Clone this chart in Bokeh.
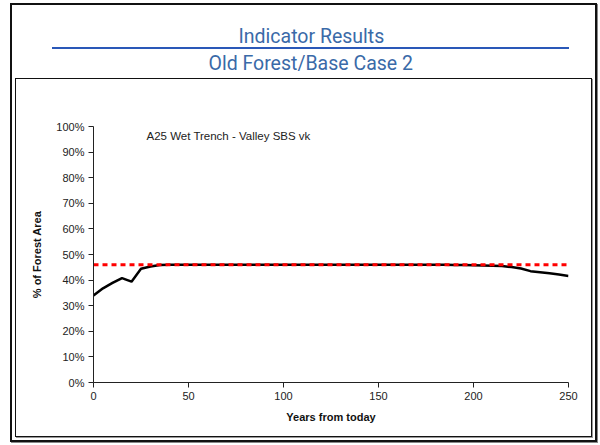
from bokeh.plotting import figure
from bokeh.models import (Label, Title, FixedTicker, PrintfTickFormatter,
                          Range1d, InlineStyleSheet)
from bokeh.embed import file_html
from bokeh.resources import INLINE

# Old forest share of forest area over the planning horizon (percent)
years = [0, 5, 10, 15, 20, 25, 30, 35, 40, 45, 50, 55, 60, 65, 70, 75, 80,
         85, 90, 95, 100, 105, 110, 115, 120, 125, 130, 135, 140, 145, 150,
         155, 160, 165, 170, 175, 180, 185, 190, 195, 200, 205, 210, 215,
         220, 225, 230, 235, 240, 245, 250]
old_forest = [34.0, 36.8, 38.9, 40.8, 39.4, 44.4, 45.3, 45.9, 46.0, 46.0,
              46.0, 46.0, 46.0, 46.0, 46.0, 46.0, 46.0, 46.0, 46.0, 46.0,
              46.0, 46.0, 46.0, 46.0, 46.0, 46.0, 46.0, 46.0, 46.0, 46.0,
              46.0, 46.0, 46.0, 46.0, 46.0, 46.0, 46.0, 46.0, 45.9, 45.9,
              45.8, 45.7, 45.6, 45.5, 45.1, 44.5, 43.5, 43.1, 42.7, 42.2,
              41.6]

# Target level
target_years = [0, 250]
target = [46.0, 46.0]

y_ticks = [0, 10, 20, 30, 40, 50, 60, 70, 80, 90, 100]
x_ticks = [0, 50, 100, 150, 200, 250]

title_text = "Indicator Results"
subtitle_text = "Old Forest/Base Case 2"
unit_text = "A25 Wet Trench - Valley SBS vk"

TICK_FONT = "Liberation Sans"
HEAD_FONT = "Roboto"
HEAD_COLOR = "#3a6aa8"

# Page frame, chart box and the rule under the heading, drawn as overlays
frame_css = """
:host { position: relative; }
:host::before {
  content: ""; position: absolute; z-index: 10; pointer-events: none;
  left: 10px; top: 3px; width: 587px; height: 439px;
  box-sizing: border-box; border: 2px solid #111;
  box-shadow: 1px 1px 0 #888;
  background: linear-gradient(#2a58b8, #2a58b8) no-repeat;
  background-size: 517px 2px; background-position: 40px 42px;
}
:host::after {
  content: ""; position: absolute; z-index: 10; pointer-events: none;
  left: 15px; top: 78px; width: 577px; height: 359px;
  box-sizing: border-box; border: 1px solid #111;
  box-shadow: 1px 1px 0 #999;
}
"""

p = figure(width=600, height=445, output_backend="svg", toolbar_location=None,
           x_range=Range1d(0, 250), y_range=Range1d(0, 100),
           min_border_left=93, min_border_right=32,
           min_border_top=126, min_border_bottom=63,
           stylesheets=[InlineStyleSheet(css=frame_css)])
p.toolbar.logo = None
p.background_fill_color = "white"
p.border_fill_color = "white"
p.outline_line_color = None
p.grid.visible = False
p.title.visible = False

# Heading: panels stack outward from the frame in the order they are added;
# a blank title keeps the heading clear of the chart box.  The heading is
# centred on the rule, so it is placed with a left offset from the frame.
p.add_layout(Title(text=" ", text_font=TICK_FONT, text_font_size="11px",
                   standoff=37), "above")
p.add_layout(Title(text=subtitle_text, align="left", offset=115,
                   text_font=HEAD_FONT, text_font_size="19.5px",
                   text_font_style="normal", text_color=HEAD_COLOR,
                   standoff=2), "above")
p.add_layout(Title(text=title_text, align="left", offset=145,
                   text_font=HEAD_FONT, text_font_size="19.5px",
                   text_font_style="normal", text_color=HEAD_COLOR,
                   standoff=2), "above")

# Axes
for ax in (p.xaxis[0], p.yaxis[0]):
    ax.axis_line_color = "#222222"
    ax.axis_line_width = 1
    ax.major_tick_line_color = "#222222"
    ax.major_tick_out = 5
    ax.major_tick_in = 0
    ax.minor_tick_line_color = None
    ax.major_label_text_font = TICK_FONT
    ax.major_label_text_font_size = "11px"
    ax.major_label_text_color = "#222222"
    ax.axis_label_text_font = TICK_FONT
    ax.axis_label_text_font_size = "11px"
    ax.axis_label_text_font_style = "bold"
    ax.axis_label_text_color = "#111111"

p.xaxis.ticker = FixedTicker(ticks=x_ticks)
p.yaxis.ticker = FixedTicker(ticks=y_ticks)
p.yaxis.formatter = PrintfTickFormatter(format="%d%%")
p.xaxis.axis_label = "Years from today"
p.yaxis.axis_label = "% of Forest Area"
p.xaxis.major_label_standoff = 4
p.yaxis.major_label_standoff = 4
p.xaxis.axis_label_standoff = 8
p.yaxis.axis_label_standoff = 10

# Series
p.line(years, old_forest, line_color="black", line_width=2.5)
p.line(target_years, target, line_color="#ff0000", line_width=3,
       line_dash="5 4")

p.add_layout(Label(x=146, y=135.7, x_units="canvas", y_units="canvas",
                   text=unit_text, text_font=TICK_FONT,
                   text_font_size="11.5px", text_color="#222222",
                   text_baseline="middle", text_align="left"))

open("out.html", "w").write(file_html(p, INLINE))
